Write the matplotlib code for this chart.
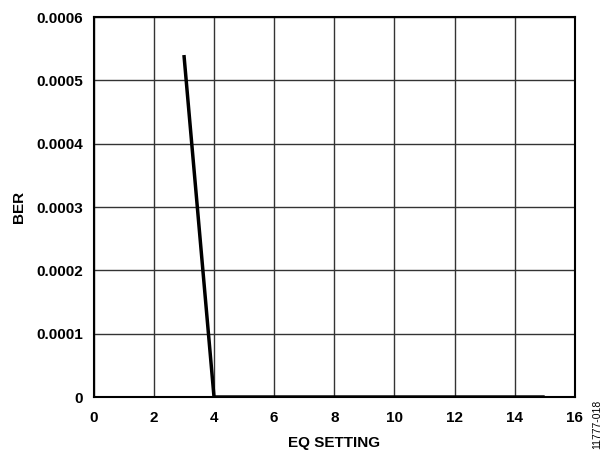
import matplotlib
matplotlib.use("Agg")
import matplotlib.pyplot as plt

eq_setting = [3, 4, 5, 6, 7, 8, 9, 10, 11, 12, 13, 14, 15]
ber = [0.00054, 0, 0, 0, 0, 0, 0, 0, 0, 0, 0, 0, 0]
x_ticks = [0, 2, 4, 6, 8, 10, 12, 14, 16]
y_ticks = [0, 0.0001, 0.0002, 0.0003, 0.0004, 0.0005, 0.0006]
y_labels = ["0", "0.0001", "0.0002", "0.0003", "0.0004", "0.0005", "0.0006"]

plt.rcParams['font.family'] = ['Liberation Sans', 'DejaVu Sans']
plt.rcParams['font.weight'] = 'bold'

fig = plt.figure(figsize=(6.05, 4.51), dpi=100)
ax = fig.add_axes([0.155, 0.1197, 0.795, 0.8425])
ax.plot(eq_setting, ber, color='black', linewidth=2.5, solid_capstyle='butt', zorder=3)
ax.set_xlim(0, 16)
ax.set_ylim(0, 0.0006)
ax.set_xticks(x_ticks)
ax.set_yticks(y_ticks)
ax.set_yticklabels(y_labels)
ax.grid(True, color='#333333', linewidth=1.0)
ax.tick_params(axis='both', length=0, labelsize=11)
ax.tick_params(axis='x', pad=10)
ax.tick_params(axis='y', pad=8)
for s in ax.spines.values():
    s.set_linewidth(1.5)
    s.set_color('black')
ax.set_xlabel("EQ SETTING", fontsize=11, fontweight='bold', labelpad=8)
ax.set_ylabel("BER", fontsize=11, fontweight='bold', labelpad=7)
fig.text(0.987, 0.06, "11777-018", rotation=90, fontsize=7.5, fontweight='normal',
         ha='center', va='center')
fig.savefig("out.png", dpi=100)
